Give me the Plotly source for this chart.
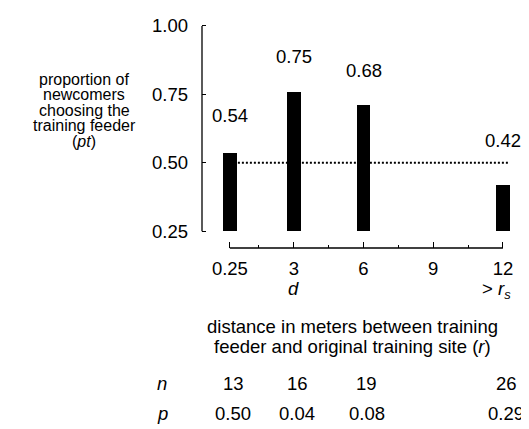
import plotly.graph_objects as go

# data
distances = [0.25, 3, 6, 12]
bar_values = [0.535, 0.76, 0.71, 0.42]
bar_labels = ["0.54", "0.75", "0.68", "0.42"]
n_values = ["13", "16", "19", "26"]
p_values = ["0.50", "0.04", "0.08", "0.29"]
x_ticks = [0.25, 3, 6, 9, 12]
x_tick_text = ["0.25", "3", "6", "9", "12"]
x_minor = [1.5, 4.5, 7.5, 10.5]
y_ticks = [0.25, 0.50, 0.75, 1.00]
y_tick_text = ["0.25", "0.50", "0.75", "1.00"]
chance = 0.5
ylabel_lines = ["proportion of", "newcomers", "choosing the", "training feeder", "(<i>pt</i>)"]
xlabel_lines = ["distance in meters between training", "feeder and original training site (<i>r</i>)"]

FONT = "Liberation Sans, Arial, Helvetica, sans-serif"
FS = 18.5
OFF = 8  # page body margin
W, H = 529 - OFF, 429 - OFF
ML, MT = 202 - OFF, 15 - OFF
MB = H - (248 - OFF)
MR = W - (515 - OFF)
XR = [-0.95, 12.52]
YR = [0.1886, 1.0289]
plot_w = W - ML - MR
plot_h = H - MT - MB


def py(pix):
    # reference pixel y (from top) -> paper y
    return (H - MB - (pix - OFF)) / plot_h


def px(pix):
    # reference pixel x -> paper x
    return ((pix - OFF) - ML) / plot_w


def txt(size=FS):
    return dict(family=FONT, size=size, color="black")


fig = go.Figure()

# chance line
fig.add_trace(go.Scatter(
    x=[distances[0], distances[-1] + 0.3], y=[chance, chance], mode="lines",
    line=dict(color="black", width=2, dash="2px,2px"), hoverinfo="skip", showlegend=False))

# bars
fig.add_trace(go.Bar(
    x=distances, y=[v - y_ticks[0] for v in bar_values], base=y_ticks[0],
    width=0.6, marker=dict(color="black", line=dict(width=0)), showlegend=False))

# bar labels
label_shift = [25, 23, 22, 32]
for x, v, t, s in zip(distances, bar_values, bar_labels, label_shift):
    fig.add_annotation(x=x, y=v, text=t, showarrow=False, xanchor="center", yanchor="bottom",
                       yshift=s, font=txt())

# axis lines as shapes
fig.add_shape(type="line", xref="paper", yref="y", x0=0, x1=0, y0=y_ticks[0], y1=y_ticks[-1],
              line=dict(color="black", width=1.3))
fig.add_shape(type="line", xref="x", yref="paper", x0=x_ticks[0], x1=x_ticks[-1], y0=0, y1=0,
              line=dict(color="black", width=1.3))

# y label lines
for i, line in enumerate(ylabel_lines):
    fig.add_annotation(xref="paper", yref="paper", x=px(84), y=py(77 + i * 15.8),
                       text=line, showarrow=False, xanchor="center", yanchor="middle",
                       font=txt(16))

# d and > r_s
fig.add_annotation(xref="x", yref="paper", x=3, y=py(289), text="<i>d</i>", showarrow=False,
                   xanchor="center", yanchor="middle", font=txt())
fig.add_annotation(xref="paper", yref="paper", x=px(513), y=py(291),
                   text="&gt; <i>r</i><sub><i>s</i></sub>",
                   showarrow=False, xanchor="right", yanchor="middle", font=txt())

# x label lines
for i, line in enumerate(xlabel_lines):
    fig.add_annotation(xref="paper", yref="paper", x=px(352), y=py(328 + i * 20), text=line,
                       showarrow=False, xanchor="center", yanchor="middle", font=txt())

# n and p rows
fig.add_annotation(xref="paper", yref="paper", x=px(162), y=py(385), text="<i>n</i>",
                   showarrow=False, xanchor="center", yanchor="middle", font=txt())
fig.add_annotation(xref="paper", yref="paper", x=px(162), y=py(416), text="<i>p</i>",
                   showarrow=False, xanchor="center", yanchor="middle", font=txt())
for x, nv, pv in zip(distances, n_values, p_values):
    fig.add_annotation(xref="x", yref="paper", x=x + 0.15, y=py(385), text=nv, showarrow=False,
                       xanchor="center", yanchor="middle", font=txt())
    fig.add_annotation(xref="x", yref="paper", x=x + 0.15, y=py(416), text=pv, showarrow=False,
                       xanchor="center", yanchor="middle", font=txt())

fig.update_layout(
    width=W, height=H, margin=dict(l=ML, r=MR, t=MT, b=MB),
    paper_bgcolor="white", plot_bgcolor="white",
    font=txt(),
    bargap=0,
    xaxis=dict(range=XR, tickmode="array", tickvals=x_ticks, ticktext=x_tick_text,
               ticks="inside", ticklen=6, tickwidth=1.3, tickcolor="black",
               showline=False, showgrid=False, zeroline=False, ticklabelstandoff=7,
               minor=dict(tickmode="array", tickvals=x_minor, ticks="inside", ticklen=3,
                          tickwidth=1.3, tickcolor="black", showgrid=False),
               tickfont=txt()),
    yaxis=dict(range=YR, tickmode="array", tickvals=y_ticks, ticktext=y_tick_text,
               ticks="inside", ticklen=4, tickwidth=1.3, tickcolor="black",
               showline=False, showgrid=False, zeroline=False, ticklabelstandoff=13,
               tickfont=txt()),
)

fig.write_html("out.html")
